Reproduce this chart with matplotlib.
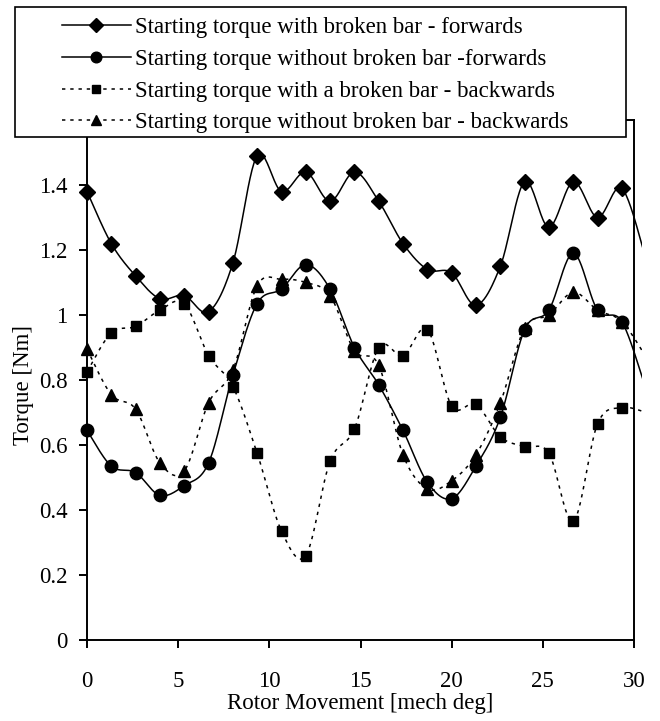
import numpy as np
import matplotlib
matplotlib.use("Agg")
import matplotlib.pyplot as plt
from matplotlib.lines import Line2D
from matplotlib.patches import Rectangle
from matplotlib.ticker import FuncFormatter

plt.rcParams['font.family'] = ['Liberation Serif', 'DejaVu Serif']

################################################################################
# data ----
################################################################################

rotor_deg = [0, 1.33, 2.67, 4, 5.33, 6.67, 8, 9.33, 10.67, 12, 13.33, 14.67,
             16, 17.33, 18.67, 20, 21.33, 22.67, 24, 25.33, 26.67, 28, 29.33, 30.67]

fwd_broken = [1.38, 1.22, 1.12, 1.05, 1.06, 1.01, 1.16, 1.49, 1.38, 1.44, 1.35, 1.44,
              1.35, 1.22, 1.14, 1.13, 1.03, 1.15, 1.41, 1.27, 1.41, 1.30, 1.39, 1.17]
fwd_healthy = [0.645, 0.535, 0.515, 0.445, 0.475, 0.545, 0.815, 1.035, 1.08, 1.155, 1.08, 0.90,
               0.785, 0.645, 0.485, 0.435, 0.535, 0.685, 0.955, 1.015, 1.19, 1.015, 0.98, 0.77]
bwd_broken = [0.825, 0.945, 0.965, 1.015, 1.035, 0.875, 0.78, 0.575, 0.335, 0.26, 0.55, 0.65,
              0.90, 0.875, 0.955, 0.72, 0.725, 0.625, 0.595, 0.575, 0.365, 0.665, 0.715, 0.70]
bwd_healthy = [0.895, 0.755, 0.71, 0.545, 0.52, 0.73, 0.83, 1.09, 1.11, 1.10, 1.06, 0.89,
               0.845, 0.57, 0.465, 0.49, 0.57, 0.73, 0.96, 1.00, 1.07, 1.015, 0.98, 0.87]

labels = ['Starting torque with broken bar - forwards',
          'Starting torque without broken bar -forwards',
          'Starting torque with a broken bar - backwards',
          'Starting torque without broken bar - backwards']


################################################################################
# smoothed line like the spreadsheet one ----
################################################################################

def smooth(x, y, n=24):
    pts = np.column_stack([x, y])
    p = np.vstack([pts[0], pts, pts[-1]])
    t = np.linspace(0, 1, n, endpoint=False)[:, None]
    out = []
    for i in range(1, len(p) - 2):
        p0, p1, p2, p3 = p[i - 1], p[i], p[i + 1], p[i + 2]
        c1 = p1 + (p2 - p0) / 6
        c2 = p2 - (p3 - p1) / 6
        out.append((1 - t) ** 3 * p1 + 3 * (1 - t) ** 2 * t * c1
                   + 3 * (1 - t) * t ** 2 * c2 + t ** 3 * p2)
    out.append(p[-2][None])
    c = np.vstack(out)
    return c[:, 0], c[:, 1]


################################################################################
# plot ----
################################################################################

fs = 16.5
fig = plt.figure(figsize=(6.6, 7.21), dpi=100)
ax = fig.add_axes([87 / 660, 81 / 721, 547 / 660, 520 / 721])

line_clip = Rectangle((-3, -1), 33.45, 4, transform=ax.transData)
mark_clip = Rectangle((-3, -1), 33.0, 4, transform=ax.transData)

dotted = (0, (2.2, 3.2))
series = [
    (fwd_broken, 'D', 8.5, '-'),
    (fwd_healthy, 'o', 9, '-'),
    (bwd_broken, 's', 6.5, dotted),
    (bwd_healthy, '^', 9, dotted),
]

handles = []
for vals, mk, ms, ls in series:
    sx, sy = smooth(rotor_deg, vals)
    ln, = ax.plot(sx, sy, color='black', lw=1.1, linestyle=ls)
    ln.set_clip_path(line_clip)
    mks, = ax.plot(rotor_deg, vals, linestyle='none', marker=mk, markersize=ms,
                   color='black')
    mks.set_clip_path(mark_clip)
    handles.append(Line2D([], [], color='black', lw=1.1, linestyle=ls,
                          marker=mk, markersize=ms * 0.85))

ax.set_xlim(0, 30)
ax.set_ylim(0, 1.6)
ax.set_xticks([0, 5, 10, 15, 20, 25, 30])
ax.set_yticks(np.arange(0, 1.61, 0.2))
ax.yaxis.set_major_formatter(FuncFormatter(lambda v, p: '%g' % round(v, 1)))

for s in ax.spines.values():
    s.set_linewidth(1.4)
ax.tick_params(direction='out', length=6, width=1.4, labelsize=fs)
ax.tick_params(axis='x', pad=16)
ax.tick_params(axis='y', pad=8)

ax.set_xlabel('Rotor Movement [mech deg]', fontsize=fs)
ax.xaxis.set_label_coords(0.5, (640 - 704) / 520)
ax.xaxis.label.set_va('center')
ax.set_ylabel('Torque [Nm]', fontsize=fs)
ax.yaxis.set_label_coords((24 - 87) / 547, (640 - 385) / 520)
ax.yaxis.label.set_va('center')

# legend box sits over the top of the plot area
box = Rectangle((15 / 660, (721 - 137) / 721), 611 / 660, 130 / 721,
                transform=fig.transFigure, facecolor='white', edgecolor='black',
                lw=1.2, zorder=3)
fig.add_artist(box)
leg = fig.legend(handles, labels, loc='upper left', bbox_to_anchor=(62 / 660, 1 - 17 / 721),
                 frameon=False, fontsize=fs, handlelength=3.0, handletextpad=0.2,
                 labelspacing=0.47, borderpad=0, borderaxespad=0)
leg.set_zorder(5)

fig.savefig('out.png', dpi=100)
